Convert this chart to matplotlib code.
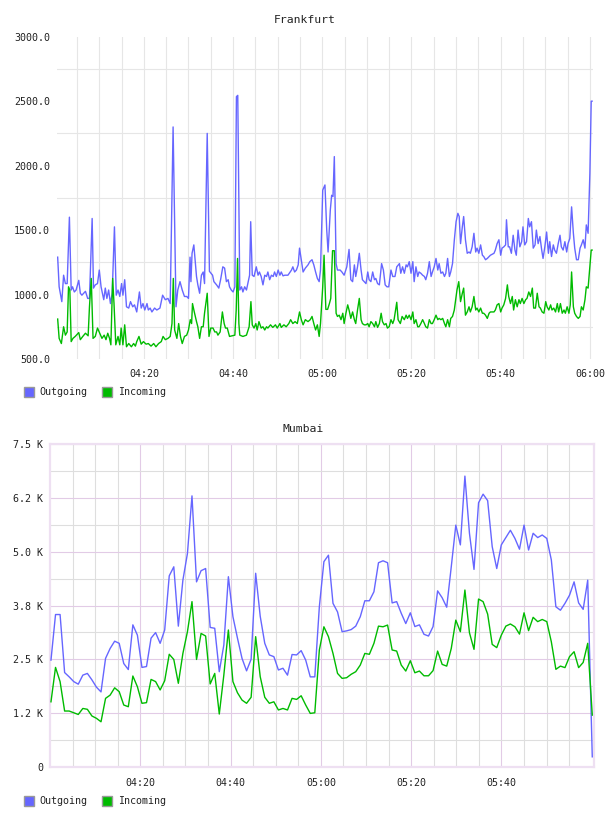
import matplotlib
matplotlib.use('Agg')
import matplotlib.pyplot as plt
from matplotlib.patches import Rectangle
import numpy as np

# ---------------- DATA ----------------
# time axis: minutes after 04:00
time_ticks = [20, 40, 60, 80, 100, 120]
time_labels = ['04:20', '04:40', '05:00', '05:20', '05:40', '06:00']

# Frankfurt
fra_out_min = [0.67, 1.0, 1.6, 2.0, 2.4, 2.8, 3.3, 3.7, 4.0, 4.4, 4.8, 5.4, 5.75, 6.1, 6.9, 7.4, 7.8, 8.4, 8.7, 9.1,
               9.6, 10.0, 10.4, 11.0, 11.35, 11.7, 12.1, 12.5, 12.9, 13.4, 13.8, 14.2, 14.6, 15.0, 15.3, 15.7, 16.1,
               16.6, 17.0, 17.5, 17.9, 18.4, 19.0, 19.4, 19.8, 20.2, 20.7, 21.0, 21.4, 21.8, 22.4, 22.9, 23.6, 24.2,
               24.8, 25.4, 25.9, 26.55, 27.2, 27.6, 28.1, 28.6, 29.1, 29.6, 30.0, 30.35, 30.55, 30.8, 31.2, 31.8,
               32.1, 32.5, 32.9, 33.3, 33.6, 34.2, 34.7, 35.4, 35.7, 36.3, 36.8, 37.2, 37.7, 38.1, 38.5, 38.9, 39.2,
               39.6, 40.0, 40.4, 40.75, 41.05, 41.5, 41.9, 42.2, 42.6, 43.0, 43.4, 43.7, 43.95, 44.3, 44.7, 45.2,
               45.6, 45.9, 46.3, 46.7, 47.1, 47.5, 47.8, 48.2, 48.6, 49.0, 49.3, 49.7, 50.1, 50.5, 50.8, 51.2, 51.6,
               52.3, 53.1, 53.4, 53.8, 54.2, 54.6, 54.9, 55.3, 55.7, 56.2, 56.8, 57.2, 57.7, 58.1, 58.5, 58.9, 59.3,
               59.6, 60.1, 60.6, 61.0, 61.3, 61.8, 62.1, 62.4, 62.7, 63.1, 63.4, 64.0, 64.4, 64.9, 65.5, 66.0, 66.4,
               66.8, 67.2, 67.5, 67.9, 68.3, 68.7, 69.0, 69.4, 69.8, 70.2, 70.5, 70.9, 71.3, 71.7, 72.0, 72.4, 72.8,
               73.3, 73.7, 74.1, 74.5, 74.9, 75.4, 75.8, 76.3, 76.7, 77.3, 77.6, 78.0, 78.4, 78.8, 79.1, 79.5, 79.9,
               80.3, 80.6, 81.0, 81.4, 81.7, 82.1, 82.5, 82.9, 83.2, 83.6, 84.0, 84.4, 84.7, 85.1, 85.5, 85.9, 86.2,
               86.6, 87.0, 87.4, 87.7, 88.1, 88.5, 88.8, 89.2, 89.6, 90.0, 90.4, 90.7, 91.0, 91.4, 91.7, 92.1, 92.5,
               92.9, 93.2, 93.6, 94.0, 94.4, 94.7, 95.1, 95.5, 95.9, 96.2, 96.6, 97.0, 97.7, 98.5, 98.8, 99.2, 99.6,
               100.0, 100.3, 100.7, 101.1, 101.3, 101.7, 102.0, 102.4, 102.8, 103.2, 103.5, 103.9, 104.3, 104.7,
               105.0, 105.4, 105.8, 106.2, 106.5, 106.9, 107.3, 107.7, 108.0, 108.4, 108.8, 109.2, 109.5, 109.9,
               110.3, 110.7, 111.0, 111.4, 111.8, 112.1, 112.5, 112.9, 113.3, 113.6, 114.0, 114.4, 114.8, 115.1,
               115.5, 115.9, 116.3, 116.6, 117.0, 117.4, 117.8, 118.1, 118.5, 118.9, 119.2, 119.6, 120.0, 120.3,
               120.5]
fra_out_val = [1290, 1060, 945, 1150, 1085, 1085, 1600, 1035, 1060, 1020, 1035, 1110, 1010, 995, 1025, 970, 970, 1590,
               1050, 1075, 1085, 1190, 1060, 960, 1050, 970, 1035, 930, 1010, 1525, 995, 1035, 985, 1085, 995, 1115,
               905, 895, 945, 905, 920, 865, 1020, 895, 930, 880, 930, 880, 895, 865, 895, 880, 895, 995, 960, 970,
               930, 2300, 905, 1035, 1100, 1035, 985, 985, 970, 1290, 1100, 1320, 1385, 1140, 1075, 1010, 1150, 1175,
               1085, 2250, 1180, 1150, 1100, 1075, 1050, 1115, 1215, 1205, 1100, 1115, 1060, 1035, 1020, 1060, 2535,
               2545, 1035, 1060, 1020, 1060, 1035, 1100, 1150, 1565, 1150, 1140, 1215, 1150, 1175, 1140, 1075, 1150,
               1140, 1175, 1115, 1150, 1140, 1175, 1140, 1190, 1150, 1175, 1145, 1150, 1150, 1190, 1215, 1175, 1190,
               1230, 1360, 1270, 1175, 1205, 1230, 1255, 1270, 1230, 1175, 1125, 1100, 1190, 1810, 1850, 1500, 1330,
               1655, 1770, 1760, 2070, 1240, 1190, 1190, 1175, 1150, 1215, 1350, 1115, 1100, 1230, 1140, 1215, 1320,
               1190, 1115, 1100, 1085, 1175, 1115, 1100, 1175, 1115, 1125, 1085, 1075, 1240, 1190, 1075, 1060, 1060,
               1190, 1140, 1140, 1215, 1240, 1165, 1215, 1165, 1230, 1215, 1255, 1165, 1255, 1100, 1215, 1140, 1175,
               1165, 1150, 1140, 1115, 1165, 1255, 1140, 1175, 1215, 1280, 1190, 1240, 1165, 1175, 1140, 1165, 1280,
               1140, 1175, 1240, 1420, 1565, 1630, 1605, 1395, 1525, 1605, 1425, 1320, 1330, 1320, 1370, 1475, 1330,
               1360, 1320, 1385, 1305, 1295, 1270, 1280, 1305, 1320, 1345, 1395, 1425, 1305, 1360, 1370, 1385, 1580,
               1370, 1370, 1320, 1460, 1345, 1305, 1500, 1370, 1410, 1525, 1385, 1410, 1590, 1525, 1565, 1360, 1385,
               1500, 1395, 1450, 1345, 1280, 1370, 1485, 1320, 1410, 1295, 1385, 1345, 1320, 1395, 1460, 1370, 1345,
               1410, 1330, 1395, 1435, 1680, 1475, 1360, 1270, 1270, 1360, 1385, 1425, 1360, 1540, 1475, 1940, 2500,
               2500]

fra_in_min = [0.67, 1.0, 1.5, 2.0, 2.4, 2.8, 3.1, 3.4, 3.7, 4.1, 4.6, 5.4, 5.75, 6.3, 6.9, 7.5, 7.8, 8.2, 8.6, 9.1,
              9.6, 10.1, 10.6, 11.1, 11.5, 11.9, 12.3, 12.6, 13.0, 13.3, 13.7, 14.2, 14.6, 14.9, 15.3, 15.7, 16.1,
              16.6, 17.2, 17.7, 18.1, 18.4, 18.9, 19.4, 19.9, 20.5, 21.0, 21.6, 22.2, 22.7, 23.3, 23.9, 24.3, 24.8,
              25.4, 25.9, 26.3, 26.6, 26.9, 27.4, 27.8, 28.2, 28.6, 29.1, 29.6, 30.0, 30.4, 30.7, 30.9, 31.3, 31.8,
              32.1, 32.5, 32.9, 33.3, 33.6, 33.9, 34.2, 34.6, 35.0, 35.5, 35.9, 36.3, 36.6, 37.1, 37.6, 38.0, 38.3,
              38.7, 39.2, 39.8, 40.4, 40.7, 41.0, 41.3, 41.5, 42.2, 43.0, 43.6, 44.0, 44.3, 44.7, 45.1, 45.4, 45.8,
              46.3, 46.7, 47.1, 47.5, 47.8, 48.4, 48.9, 49.5, 49.9, 50.5, 50.8, 51.4, 51.9, 52.5, 52.9, 53.4, 53.9,
              54.4, 54.9, 55.3, 55.7, 56.2, 56.8, 57.3, 57.7, 58.1, 58.5, 58.9, 59.3, 59.6, 60.1, 60.4, 60.8, 61.2,
              61.6, 61.9, 62.3, 62.7, 63.1, 63.4, 63.8, 64.2, 64.6, 64.9, 65.3, 65.7, 66.0, 66.4, 66.8, 67.2, 67.5,
              67.9, 68.3, 68.7, 69.0, 69.4, 69.8, 70.2, 70.5, 70.9, 71.3, 71.7, 72.0, 72.4, 72.8, 73.2, 73.5, 73.9,
              74.3, 74.6, 75.0, 75.4, 75.8, 76.1, 76.7, 77.0, 77.5, 77.9, 78.4, 78.8, 79.1, 79.5, 79.9, 80.3, 80.6,
              81.0, 81.4, 81.7, 82.1, 82.5, 82.9, 83.2, 83.6, 84.0, 84.4, 84.7, 85.1, 85.5, 85.9, 86.2, 86.6, 87.0,
              87.4, 87.7, 88.1, 88.5, 88.8, 89.2, 89.6, 90.0, 90.2, 90.6, 91.0, 91.4, 91.7, 92.1, 92.5, 92.9, 93.2,
              93.6, 94.0, 94.4, 94.7, 95.1, 95.5, 95.9, 96.2, 96.6, 97.0, 97.4, 97.7, 98.5, 98.8, 99.2, 99.6, 100.0,
              100.3, 100.7, 101.1, 101.5, 101.8, 102.2, 102.6, 102.9, 103.3, 103.7, 104.1, 104.4, 104.8, 105.2,
              105.6, 105.9, 106.3, 106.7, 107.1, 107.4, 107.8, 108.2, 108.6, 108.9, 109.3, 109.7, 110.1, 110.4,
              110.8, 111.2, 111.5, 111.9, 112.3, 112.7, 113.0, 113.4, 113.8, 114.2, 114.5, 114.9, 115.3, 115.6,
              115.9, 116.3, 116.6, 117.0, 117.4, 117.8, 118.1, 118.5, 118.9, 119.2, 119.6, 120.0, 120.3, 120.5]
fra_in_val = [810, 660, 620, 750, 685, 710, 1060, 1035, 635, 660, 675, 705, 650, 675, 700, 680, 905, 1125, 660, 675,
              740, 700, 660, 685, 650, 700, 660, 610, 1125, 930, 610, 675, 610, 740, 610, 765, 595, 620, 595, 620, 600,
              635, 675, 615, 635, 615, 620, 600, 620, 595, 620, 635, 675, 650, 660, 675, 775, 1125, 725, 660, 775, 675,
              620, 675, 685, 725, 805, 775, 930, 865, 790, 750, 660, 750, 750, 855, 930, 1010, 675, 740, 740, 710, 710,
              685, 710, 865, 775, 740, 740, 675, 680, 685, 880, 1280, 775, 685, 675, 685, 750, 945, 765, 740, 775, 725,
              790, 740, 750, 725, 750, 740, 765, 745, 765, 740, 775, 745, 765, 750, 775, 805, 775, 790, 775, 865, 805,
              765, 805, 790, 805, 830, 775, 725, 765, 675, 775, 1060, 1305, 885, 885, 930, 970, 1340, 1340, 855, 830,
              840, 805, 855, 775, 855, 920, 880, 815, 865, 805, 775, 880, 970, 805, 775, 765, 765, 775, 750, 790, 775,
              750, 790, 745, 775, 855, 790, 765, 775, 740, 750, 805, 775, 805, 940, 805, 775, 830, 805, 840, 815, 840,
              805, 865, 775, 805, 750, 750, 775, 805, 775, 750, 740, 805, 775, 775, 805, 840, 805, 815, 805, 815, 775,
              750, 805, 750, 815, 830, 880, 985, 1035, 1100, 945, 1010, 1050, 840, 865, 905, 865, 905, 985, 880, 895,
              865, 895, 855, 855, 840, 815, 855, 865, 865, 880, 920, 930, 865, 895, 920, 970, 1075, 985, 930, 985, 880,
              960, 905, 960, 930, 970, 930, 960, 970, 1020, 985, 1050, 895, 895, 1010, 905, 895, 865, 855, 945, 905,
              880, 920, 880, 895, 865, 930, 865, 930, 855, 880, 855, 905, 855, 920, 1175, 905, 855, 830, 815, 830, 905,
              880, 960, 1060, 1050, 1215, 1345, 1345]

# Mumbai: one sample roughly every minute, first at 04:00:12
mum_first_min = 0.2
mum_step_min = 1.0077
mum_out = [2480, 3540, 3540, 2190, 2090, 1980, 1920, 2130, 2170, 2020, 1850, 1740, 2520, 2750, 2920, 2870, 2400,
           2260, 3300, 3060, 2310, 2330, 2990, 3120, 2870, 3180, 4440, 4650, 3270, 4340, 4960, 6300, 4300, 4560,
           4610, 3240, 3220, 2210, 2830, 4420, 3490, 2990, 2520, 2230, 2500, 4500, 3500, 2870, 2600, 2560, 2250,
           2290, 2130, 2610, 2600, 2700, 2480, 2090, 2090, 3720, 4770, 4920, 3800, 3600, 3140, 3160, 3190, 3270,
           3490, 3860, 3860, 4070, 4745, 4790, 4745, 3810, 3840, 3570, 3330, 3580, 3260, 3300, 3080, 3040, 3260,
           4090, 3930, 3710, 4650, 5620, 5160, 6760, 5430, 4590, 6140, 6340, 6190, 5120, 4610, 5160, 5330, 5500,
           5310, 5060, 5620, 5040, 5430, 5330, 5390, 5310, 4810, 3720, 3640, 3800, 3990, 4300, 3810, 3660, 4340,
           230]
mum_in = [1510, 2310, 1980, 1295, 1295, 1255, 1215, 1355, 1335, 1180, 1125, 1045, 1590, 1665, 1835, 1745, 1435,
          1395, 2110, 1860, 1475, 1490, 2030, 1980, 1785, 2000, 2615, 2495, 1940, 2635, 3140, 3840, 2495, 3100, 3040,
          1925, 2170, 1225, 2130, 3180, 1980, 1720, 1550, 1475, 1615, 3025, 2095, 1615, 1475, 1510, 1320, 1355, 1320,
          1590, 1565, 1650, 1435, 1240, 1255, 2715, 3255, 3025, 2635, 2170, 2055, 2070, 2150, 2210, 2365, 2635, 2615,
          2870, 3270, 3255, 3295, 2715, 2690, 2365, 2225, 2465, 2185, 2225, 2115, 2115, 2235, 2690, 2380, 2340, 2750,
          3410, 3140, 4110, 3115, 2730, 3900, 3840, 3550, 2845, 2770, 3060, 3270, 3320, 3255, 3085, 3580, 3165, 3475,
          3375, 3425, 3375, 2905, 2265, 2340, 2305, 2560, 2675, 2305, 2425, 2870, 1200]

fra_yticks = [500, 1000, 1500, 2000, 2500, 3000]
mum_yticks = [0, 1250, 2500, 3750, 5000, 6250, 7500]
mum_ylabels = ['0', '1.2 K', '2.5 K', '3.8 K', '5.0 K', '6.2 K', '7.5 K']

series_names = ['Outgoing', 'Incoming']
series_colors = ['#6666ff', '#00bb00']

# ---------------- FIGURE ----------------
W, H = 608, 816
fig = plt.figure(figsize=(W / 100, H / 100), dpi=100)
MONO = 'DejaVu Sans Mono'
FS = 7.2
TXT = '#222222'


def rect(l, t, r, b):
    return [l / W, 1 - b / H, (r - l) / W, (b - t) / H]


def legend(y):
    x = 24
    for name, col, tx in zip(series_names, series_colors, [39, 118]):
        fig.patches.append(Rectangle((x / W, 1 - (y + 5) / H), 10 / W, 10 / H, transform=fig.transFigure,
                                     facecolor=col, edgecolor='#999999', lw=1.0))
        fig.text(tx / W, 1 - y / H, name, fontsize=FS, family=MONO, color=TXT, ha='left', va='center')
        x = 102


# ---- Frankfurt ----
ax1 = fig.add_axes(rect(57, 36.7, 593, 359))
ax1.set_xlim(0.52, 120.7)
ax1.set_ylim(500, 3000)
for s in ax1.spines.values():
    s.set_visible(False)
ax1.set_xticks(time_ticks)
ax1.set_xticklabels(time_labels)
ax1.set_xticks(np.arange(5, 121, 5), minor=True)
ax1.set_yticks(fra_yticks)
ax1.set_yticklabels([f'{v:.1f}' for v in fra_yticks])
ax1.set_yticks([750, 1250, 1750, 2250, 2750], minor=True)
ax1.grid(True, which='both', axis='x', color='#e6e6e6', lw=0.8)
ax1.grid(True, which='minor', axis='y', color='#e6e6e6', lw=0.8)
ax1.grid(False, which='major', axis='y')
ax1.tick_params(which='both', length=0)
ax1.tick_params(axis='x', pad=7.5, labelsize=FS, labelcolor=TXT)
ax1.tick_params(axis='y', pad=5, labelsize=FS, labelcolor=TXT)
for lab in ax1.get_xticklabels() + ax1.get_yticklabels():
    lab.set_family(MONO)
ax1.plot(fra_out_min, fra_out_val, color=series_colors[0], lw=1.0, zorder=3)
ax1.plot(fra_in_min, fra_in_val, color=series_colors[1], lw=1.0, zorder=4)
fig.text(304.5 / W, 1 - 20 / H, 'Frankfurt', fontsize=8.2, family=MONO, color=TXT, ha='center', va='center')
legend(392)

# ---- Mumbai ----
mum_min = mum_first_min + mum_step_min * np.arange(len(mum_out))
ax2 = fig.add_axes(rect(50.3, 444.3, 594, 766.7))
ax2.set_xlim(0.05, 120.5)
ax2.set_ylim(0, 7500)
for s in ax2.spines.values():
    s.set_color('#eee0f2')
    s.set_linewidth(1.6)
ax2.set_xticks(time_ticks[:-1])
ax2.set_xticklabels(time_labels[:-1])
ax2.set_xticks([m for m in range(5, 120, 5) if m % 20], minor=True)
ax2.set_yticks(mum_yticks)
ax2.set_yticklabels(mum_ylabels)
ax2.set_yticks([625 + 1250 * k for k in range(6)], minor=True)
ax2.grid(True, which='major', color='#e2cbe6', lw=0.8)
ax2.grid(True, which='minor', color='#dedede', lw=0.8)
ax2.tick_params(which='both', length=0)
ax2.tick_params(axis='x', pad=8, labelsize=FS, labelcolor=TXT)
ax2.tick_params(axis='y', pad=5, labelsize=FS, labelcolor=TXT)
for lab in ax2.get_xticklabels() + ax2.get_yticklabels():
    lab.set_family(MONO)
ax2.set_axisbelow(True)
ax2.plot(mum_min, mum_out, color=series_colors[0], lw=1.0, zorder=3)
ax2.plot(mum_min, mum_in, color=series_colors[1], lw=1.0, zorder=4)
fig.text(303.5 / W, 1 - 429 / H, 'Mumbai', fontsize=8.2, family=MONO, color=TXT, ha='center', va='center')
legend(800.7)

fig.savefig('out.png', dpi=100)
